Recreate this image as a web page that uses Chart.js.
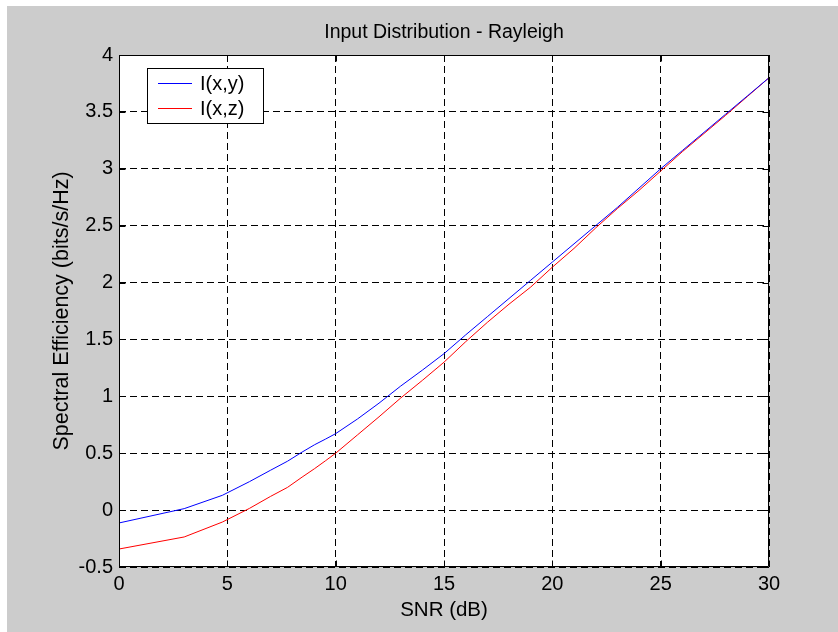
<!DOCTYPE html>
<html>
<head>
<meta charset="utf-8">
<script src="https://cdn.jsdelivr.net/npm/chart.js@4/dist/chart.umd.min.js"></script>
<style>
  html, body { margin: 0; padding: 0; background: #ffffff; }
  #wrap { position: absolute; left: 0; top: 0; width: 838px; height: 632px; }
</style>
</head>
<body>
<div id="wrap"><canvas id="c" width="838" height="632"></canvas></div>
<script>
// ---- data ----
const snrDb = [0, 3.01, 4.77, 6.02, 6.99, 7.78, 8.45, 9.03, 9.54, 10, 11, 12, 13, 14, 15, 16, 17, 18, 19, 20, 21, 22, 23, 24, 25, 26, 27, 28, 29, 30];
const ixy   = [-0.113, 0.013, 0.13, 0.25, 0.35, 0.43, 0.51, 0.575, 0.625, 0.672, 0.80, 0.94, 1.09, 1.23, 1.375, 1.54, 1.70, 1.86, 2.02, 2.18, 2.34, 2.50, 2.66, 2.83, 3.0, 3.16, 3.32, 3.48, 3.64, 3.80];
const ixz   = [-0.342, -0.236, -0.105, 0.015, 0.12, 0.20, 0.29, 0.365, 0.435, 0.50, 0.66, 0.82, 0.985, 1.14, 1.30, 1.48, 1.65, 1.81, 1.96, 2.135, 2.30, 2.48, 2.65, 2.81, 2.98, 3.15, 3.31, 3.47, 3.635, 3.80];
const seriesLabels = ['I(x,y)', 'I(x,z)'];
const xTicks = [0, 5, 10, 15, 20, 25, 30];
const yTicks = [-0.5, 0, 0.5, 1, 1.5, 2, 2.5, 3, 3.5, 4];
const titleText = 'Input Distribution - Rayleigh';
const xTitle = 'SNR (dB)';
const yTitle = 'Spectral Efficiency (bits/s/Hz)';

const FONT = "'Liberation Sans', Arial, Helvetica, sans-serif";

const toPts = (xs, ys) => xs.map((x, i) => ({ x: x, y: ys[i] }));

const bgPlugin = {
  id: 'bg',
  afterLayout(chart) {
    // centre the title over the plot area, as in the reference
    const tb = chart.titleBlock, a = chart.chartArea;
    if (tb && a) {
      tb.left = a.left;
      tb.right = a.right;
      tb.width = a.right - a.left;
    }
  },
  beforeDraw(chart) {
    const { ctx, chartArea: a } = chart;
    ctx.save();
    ctx.fillStyle = '#ffffff';
    ctx.fillRect(0, 0, chart.width, chart.height);
    ctx.fillStyle = '#cccccc';
    ctx.fillRect(7, 6, chart.width - 7, chart.height - 6);
    ctx.fillStyle = '#ffffff';
    ctx.fillRect(a.left, a.top, a.right - a.left, a.bottom - a.top);
    ctx.restore();
  },
  afterDraw(chart) {
    const { ctx, chartArea: a } = chart;
    const xs = chart.scales.x, ys = chart.scales.y;
    const L = Math.round(a.left) + 0.5, R = Math.round(a.right) - 0.5;
    const T = Math.round(a.top) + 0.5, B = Math.round(a.bottom) - 0.5;
    ctx.save();
    ctx.strokeStyle = '#000000';
    ctx.lineWidth = 1;
    ctx.setLineDash([]);
    ctx.beginPath();
    ctx.rect(L, T, R - L, B - T);
    // inward tick marks on all four sides
    const tl = 6;
    xTicks.forEach(v => {
      const px = Math.round(xs.getPixelForValue(v)) + 0.5;
      ctx.moveTo(px, B); ctx.lineTo(px, B - tl);
      ctx.moveTo(px, T); ctx.lineTo(px, T + tl);
    });
    yTicks.forEach(v => {
      const py = Math.round(ys.getPixelForValue(v)) + 0.5;
      ctx.moveTo(L, py); ctx.lineTo(L + tl, py);
      ctx.moveTo(R, py); ctx.lineTo(R - tl, py);
    });
    ctx.stroke();

    // legend box
    const bx = 147.5, by = 68.5, bw = 116, bh = 55;
    ctx.fillStyle = '#ffffff';
    ctx.fillRect(bx, by, bw, bh);
    ctx.strokeStyle = '#000000';
    ctx.strokeRect(bx, by, bw, bh);
    ctx.font = '20px ' + FONT;
    ctx.textBaseline = 'middle';
    ctx.textAlign = 'left';
    const rows = [83, 108];
    chart.data.datasets.forEach((ds, i) => {
      const yy = rows[i] + 0.5;
      ctx.strokeStyle = ds.borderColor;
      ctx.beginPath();
      ctx.moveTo(158, yy); ctx.lineTo(192, yy);
      ctx.stroke();
      ctx.fillStyle = '#000000';
      ctx.fillText(ds.label, 200, rows[i] + 1);
    });
    ctx.restore();
  }
};

new Chart(document.getElementById('c'), {
  type: 'line',
  data: {
    datasets: [
      { label: seriesLabels[0], data: toPts(snrDb, ixy), borderColor: '#0000ff', borderWidth: 1, pointRadius: 0, tension: 0, fill: false },
      { label: seriesLabels[1], data: toPts(snrDb, ixz), borderColor: '#ff0000', borderWidth: 1, pointRadius: 0, tension: 0, fill: false }
    ]
  },
  options: {
    responsive: false,
    animation: false,
    devicePixelRatio: 1,
    layout: { padding: { left: 0, right: 69, top: 0, bottom: 0 } },
    plugins: {
      legend: { display: false },
      tooltip: { enabled: false },
      title: {
        display: true,
        text: titleText,
        color: '#000000',
        font: { family: FONT, size: 19.5, weight: 'normal', lineHeight: 1.2 },
        padding: { top: 21.3, bottom: 10.3 }
      }
    },
    scales: {
      x: {
        type: 'linear',
        min: 0, max: 30,
        afterBuildTicks: s => { s.ticks = xTicks.map(v => ({ value: v })); },
        afterFit: s => { s.height = 65; },
        ticks: {
          color: '#000000', padding: 5, maxRotation: 0, autoSkip: false,
          font: { family: FONT, size: 20 },
          callback: v => String(v)
        },
        grid: { color: '#000000', lineWidth: 1, drawTicks: false },
        border: { display: false, dash: [7, 4] },
        title: {
          display: true, text: xTitle, color: '#000000',
          font: { family: FONT, size: 20.5, lineHeight: 1.2 },
          padding: { top: 0, bottom: 9 }
        }
      },
      y: {
        type: 'linear',
        min: -0.5, max: 4,
        afterBuildTicks: s => { s.ticks = yTicks.map(v => ({ value: v })); },
        afterFit: s => { s.width = 119; },
        ticks: {
          color: '#000000', padding: 6, autoSkip: false,
          font: { family: FONT, size: 20 },
          callback: v => String(v)
        },
        grid: { color: '#000000', lineWidth: 1, drawTicks: false },
        border: { display: false, dash: [7, 4] },
        title: {
          display: true, text: yTitle, color: '#000000',
          font: { family: FONT, size: 21.5, lineHeight: 1.2 },
          padding: { top: 49, bottom: 0 }
        }
      }
    }
  },
  plugins: [bgPlugin]
});
</script>
</body>
</html>
